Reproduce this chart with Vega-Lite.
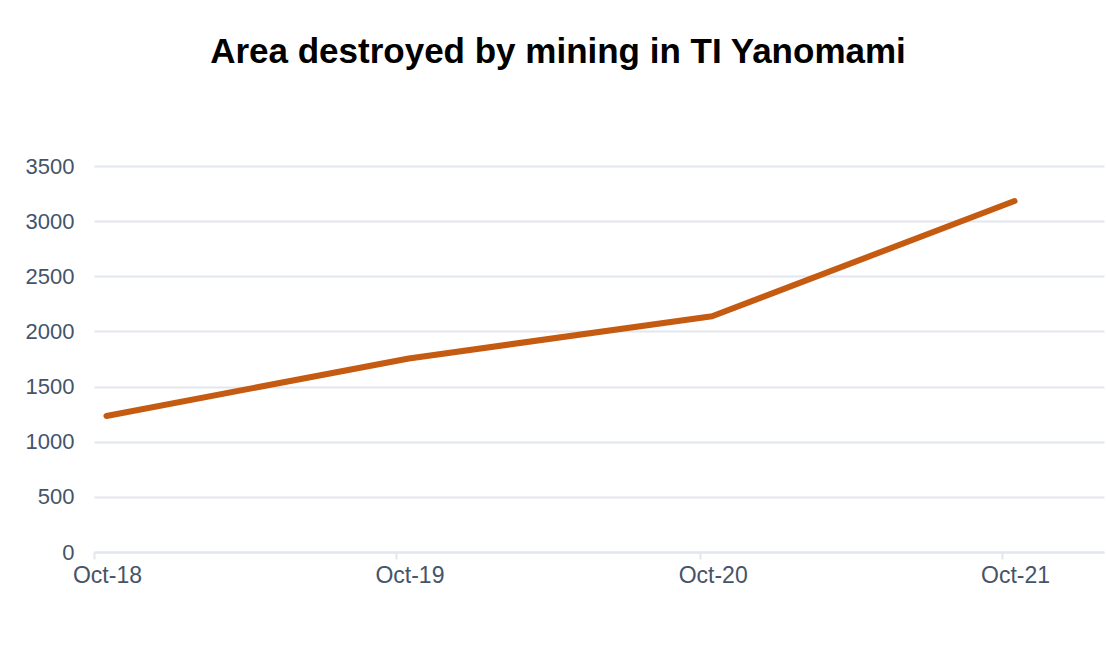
{
  "$schema": "https://vega.github.io/schema/vega-lite/v6.json",
  "width": 1010,
  "height": 386,
  "autosize": {"type": "none"},
  "padding": {"left": 94, "top": 166, "right": 2, "bottom": 102},
  "background": "white",
  "title": {
    "text": "Area destroyed by mining in TI Yanomami",
    "font": "Liberation Sans",
    "fontSize": 35,
    "fontWeight": "bold",
    "color": "#000000",
    "anchor": "middle",
    "dx": -41,
    "offset": 85
  },
  "config": {"view": {"stroke": null}, "font": "Liberation Sans"},
  "data": {
    "values": [
      {"date": "2018-10-16", "area": 1233},
      {"date": "2019-10-16", "area": 1755},
      {"date": "2020-10-16", "area": 2138},
      {"date": "2021-10-16", "area": 3182}
    ]
  },
  "mark": {"type": "line", "color": "#C55A11", "strokeWidth": 6, "strokeCap": "round", "strokeJoin": "round"},
  "encoding": {
    "x": {
      "field": "date",
      "type": "temporal",
      "scale": {"type": "utc", "domain": [{"year": 2018, "month": 10, "date": 1, "utc": true}, {"year": 2022, "month": 2, "date": 1, "utc": true}]},
      "axis": {
        "values": [
          {"year": 2018, "month": 10, "date": 1, "utc": true},
          {"year": 2019, "month": 10, "date": 1, "utc": true},
          {"year": 2020, "month": 10, "date": 1, "utc": true},
          {"year": 2021, "month": 10, "date": 1, "utc": true}
        ],
        "labelExpr": "utcFormat(datum.value, '%b-%y')",
        "labelOffset": 13,
        "title": null,
        "grid": false,
        "domainColor": "#E2E6EE",
        "domainWidth": 2,
        "tickColor": "#E2E6EE",
        "tickWidth": 2,
        "tickSize": 7,
        "labelFont": "Liberation Sans",
        "labelFontSize": 23,
        "labelColor": "#44546A",
        "labelPadding": 5,
        "labelFlush": false,
        "labelOverlap": false
      }
    },
    "y": {
      "field": "area",
      "type": "quantitative",
      "scale": {"domain": [0, 3500]},
      "axis": {
        "values": [0, 500, 1000, 1500, 2000, 2500, 3000, 3500],
        "format": "d",
        "title": null,
        "domain": false,
        "ticks": false,
        "gridColor": "#E2E6EE",
        "gridWidth": 2,
        "labelFont": "Liberation Sans",
        "labelFontSize": 22,
        "labelPadding": 20,
        "labelColor": "#44546A",
        "labelFlush": false
      }
    }
  }
}
